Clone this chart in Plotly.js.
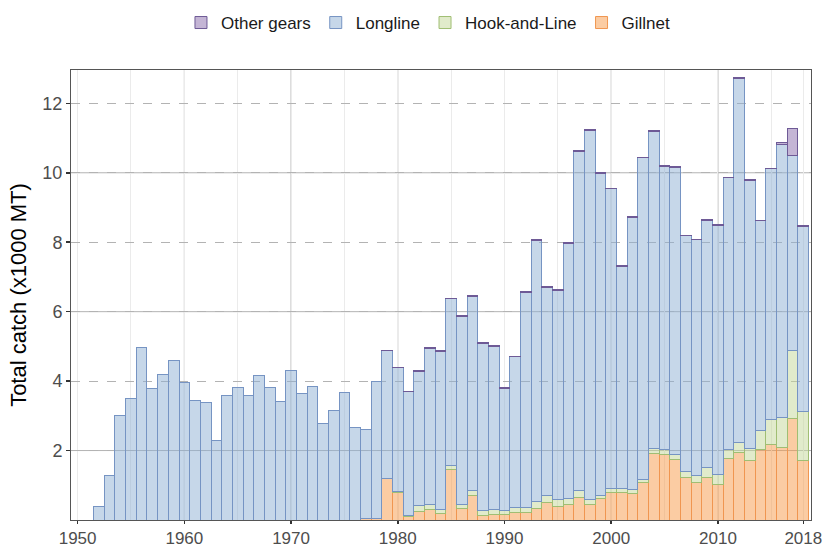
<!DOCTYPE html>
<html>
<head>
<meta charset="utf-8">
<script src="https://cdn.plot.ly/plotly-3.0.1.min.js"></script>
<style>
html,body{margin:0;padding:0;background:#fff;}
#chart{width:824px;height:547px;}
</style>
</head>
<body>
<div id="chart"></div>
<script>
// Years of the chart
const years = [];
for (let y = 1952; y <= 2018; y++) years.push(y);

// Segment heights (x1000 MT), one value per year 1952..2018
const gillnet = [
  null,null,null,null,null,null,null,null,null,null,          // 1952-1961
  null,null,null,null,null,null,null,null,null,null,          // 1962-1971
  null,null,null,null,null,0.03,0.03,1.20,0.80,0.10,          // 1972-1981
  0.25,0.31,0.19,1.45,0.34,0.72,0.13,0.17,0.17,0.22,          // 1982-1991
  0.22,0.34,0.51,0.40,0.46,0.65,0.46,0.63,0.79,0.80,          // 1992-2001
  0.77,1.08,1.92,1.89,1.73,1.23,1.09,1.23,1.01,1.76,          // 2002-2011
  1.95,1.72,2.04,2.18,2.09,2.93,1.72                          // 2012-2018
];
const hookAndLine = [
  null,null,null,null,null,null,null,null,null,null,
  null,null,null,null,null,null,null,null,null,null,
  null,null,null,null,null,null,null,null,0.03,0.04,
  0.17,0.14,0.11,0.12,0.12,0.13,0.14,0.14,0.10,0.14,
  0.15,0.19,0.21,0.20,0.17,0.20,0.14,0.09,0.11,0.11,
  0.11,0.10,0.14,0.14,0.16,0.16,0.18,0.27,0.30,0.28,
  0.29,0.34,0.55,0.72,0.87,1.96,1.41
];
const longline = [
  0.40,1.27,3.01,3.51,4.97,3.78,4.20,4.58,3.95,3.45,
  3.37,2.28,3.60,3.82,3.60,4.15,3.83,3.40,4.30,3.63,
  3.84,2.79,3.14,3.68,2.65,2.59,3.96,3.67,3.55,3.55,
  3.87,4.50,4.55,4.80,5.41,5.59,4.81,4.69,3.53,4.34,
  6.18,7.52,5.99,6.02,7.33,9.76,10.62,9.27,8.64,6.40,
  7.83,9.25,9.14,8.16,8.27,6.79,6.80,7.13,7.18,7.81,
  10.47,7.73,6.03,7.21,7.86,5.61,5.33
];
const otherGears = [
  null,null,null,null,null,null,null,null,null,null,
  null,null,null,null,null,null,null,null,null,null,
  null,null,null,null,null,null,null,0.02,0.02,0.02,
  0.02,0.02,0.02,0.02,0.02,0.02,0.02,0.02,0.02,0.02,
  0.02,0.02,0.02,0.02,0.02,0.02,0.02,0.02,0.02,0.02,
  0.02,0.02,0.02,0.02,0.02,0.02,0.02,0.02,0.02,0.02,
  0.02,0.02,0.02,0.02,0.06,0.78,0.02
];

// Axis ticks
const xTickVals = [1950,1960,1970,1980,1990,2000,2010,2018];
const xTickText = ['1950','1960','1970','1980','1990','2000','2010','2018'];
const xMinorVals = [1955,1965,1975,1985,1995,2005,2015];
const xDarkGrid = [1960,1970,1980,1990,2000,2010];
const yTickVals = [2,4,6,8,10,12];
const ySolidGrid = [2,6,10];

function barTrace(name, vals, fill, line) {
  return {
    type: 'bar', name: name, x: years, y: vals,
    marker: {color: fill, line: {color: line, width: 1}},
    hoverinfo: 'x+y+name'
  };
}

const traces = [
  barTrace('Gillnet', gillnet, 'rgba(247,153,72,0.5)', 'rgb(240,150,80)'),
  barTrace('Hook-and-Line', hookAndLine, 'rgba(196,215,151,0.5)', 'rgb(160,190,115)'),
  barTrace('Longline', longline, 'rgba(141,175,212,0.5)', 'rgb(118,148,195)'),
  barTrace('Other gears', otherGears, 'rgba(137,107,172,0.5)', 'rgb(110,90,150)')
];

const shapes = [];
xDarkGrid.forEach(v => shapes.push({type:'line', xref:'x', yref:'paper', x0:v, x1:v, y0:0, y1:1,
  line:{color:'#b3b3b3', width:1}, layer:'below'}));
ySolidGrid.forEach(v => shapes.push({type:'line', xref:'paper', yref:'y', x0:0, x1:1, y0:v, y1:v,
  line:{color:'#b3b3b3', width:1}, layer:'below'}));

const layout = {
  width: 824, height: 547,
  margin: {l: 71, r: 13, t: 70, b: 27},
  paper_bgcolor: '#fff', plot_bgcolor: '#fff',
  barmode: 'stack', bargap: 0,
  font: {family: 'Liberation Sans, Arial, sans-serif', color: '#000'},
  showlegend: true,
  legend: {orientation: 'h', traceorder: 'reversed', x: 0.52, xref: 'container', xanchor: 'center',
           y: 0.958, yref: 'container', yanchor: 'middle', font: {size: 17, color: '#1a1a1a'}, itemwidth: 30},
  xaxis: {
    range: [1949.38, 2018.72], tickmode: 'array', tickvals: xTickVals, ticktext: xTickText,
    showgrid: true, gridcolor: '#ebebeb', gridwidth: 1,
    minor: {tickmode: 'array', tickvals: xMinorVals, showgrid: true, gridcolor: '#ebebeb', ticks: ''},
    ticks: 'outside', ticklen: 3, tickwidth: 1.5, tickcolor: '#333',
    tickfont: {size: 17, color: '#4d4d4d'},
    showline: true, mirror: true, linecolor: '#555', linewidth: 1,
    zeroline: false, automargin: false
  },
  yaxis: {
    range: [0, 12.96], tickmode: 'array', tickvals: yTickVals,
    showgrid: true, gridcolor: '#b3b3b3', griddash: 'dash', gridwidth: 1,
    ticks: 'outside', ticklen: 4, tickwidth: 1.5, tickcolor: '#333',
    tickfont: {size: 18, color: '#4d4d4d'},
    showline: true, mirror: true, linecolor: '#555', linewidth: 1,
    zeroline: false, automargin: false,
    title: {text: 'Total catch (x1000 MT)', font: {size: 22, color: '#000'}, standoff: 9}
  },
  shapes: shapes
};

Plotly.newPlot('chart', traces, layout, {displayModeBar: false, staticPlot: true});
</script>
</body>
</html>
